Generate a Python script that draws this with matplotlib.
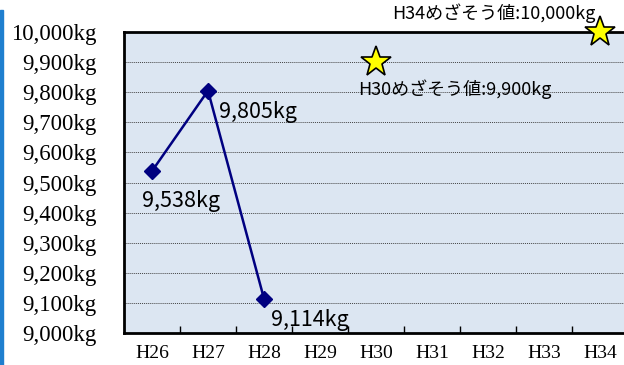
import matplotlib.pyplot as plt
from matplotlib.patches import Rectangle

years = ["H26", "H27", "H28", "H29", "H30", "H31", "H32", "H33", "H34"]
actual_idx = [0, 1, 2]
actual_kg = [9538, 9805, 9114]
actual_labels = ["9,538kg", "9,805kg", "9,114kg"]
target_idx = [4, 8]
target_kg = [9900, 10000]
target_labels = ["H30めざそう値:9,900kg", "H34めざそう値:10,000kg"]
yticks = list(range(9000, 10001, 100))

jp = ["Noto Sans CJK JP", "DejaVu Sans"]
serif = "Liberation Serif"

fig = plt.figure(figsize=(6.24, 3.65), dpi=100)
fig.patches.append(Rectangle((0, 0), 3 / 624, 355 / 365, transform=fig.transFigure,
                             color="#1f7fcf", zorder=0))
ax = fig.add_axes([124 / 624, 1 - 333 / 365, 504 / 624, 301 / 365])
ax.set_facecolor("#dce6f2")

ax.plot(actual_idx, actual_kg, color="#000080", lw=1.8, marker="D", ms=8, zorder=3)
ax.plot(target_idx, target_kg, ls="none", marker="*", ms=23, mfc="#ffff00",
        mec="black", mew=1.2, zorder=4, clip_on=False)

offsets = [(-10, -30), (11, -21), (7, -21)]
for i, v, t, (dx, dy) in zip(actual_idx, actual_kg, actual_labels, offsets):
    ax.annotate(t, (i, v), xytext=(dx, dy), textcoords="offset pixels",
                fontsize=15.5, family=jp, va="center", ha="left")

ax.annotate(target_labels[0], (target_idx[0], target_kg[0]), xytext=(-18, -27),
            textcoords="offset pixels", fontsize=13, family=jp, va="center", ha="left")
ax.annotate(target_labels[1], (target_idx[1], target_kg[1]), xytext=(-5, 19),
            textcoords="offset pixels", fontsize=13, family=jp, va="center", ha="right",
            annotation_clip=False)

ax.set_xlim(-0.5, 8.5)
ax.set_ylim(9000, 10000)
ax.set_yticks(yticks)
ax.set_yticklabels([f"{v:,}kg" for v in yticks], family=serif, fontsize=16.5)
ax.set_xticks(range(len(years)))
ax.set_xticklabels(years, family=serif, fontsize=14)
ax.set_xticks([i + 0.5 for i in range(len(years) - 1)], minor=True)
ax.tick_params(axis="y", length=0, pad=20)
ax.tick_params(axis="x", which="major", length=0, pad=9)
ax.tick_params(axis="x", which="minor", direction="in", length=5, width=1)

ax.grid(axis="y", color="#444444", ls=(0, (1, 1)), lw=0.7)
ax.set_axisbelow(True)
for s in ["left", "top", "bottom"]:
    ax.spines[s].set_linewidth(2)
ax.spines["right"].set_visible(False)

fig.savefig("out.png", dpi=100)
